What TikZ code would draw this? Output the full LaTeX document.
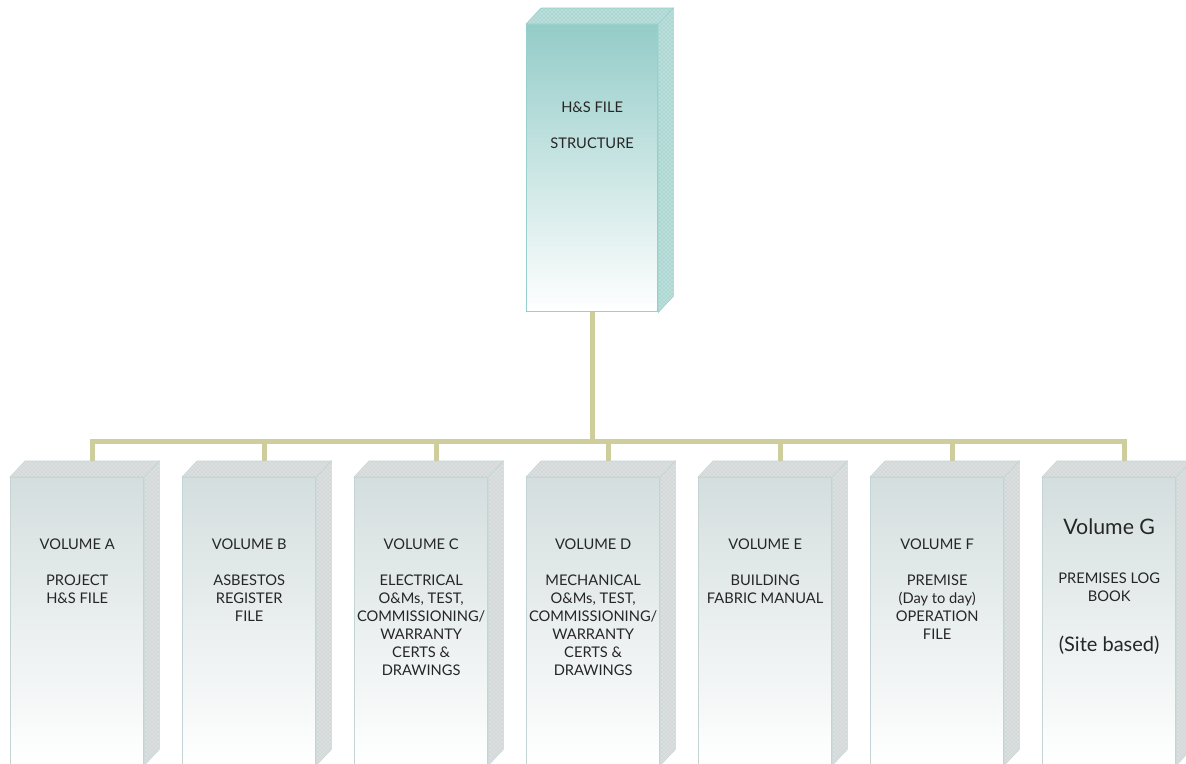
\documentclass[tikz,border=0pt]{standalone}
\usepackage{fontspec}
\setmainfont{Lato}
\usetikzlibrary{positioning,patterns}

\definecolor{tealface}{RGB}{148,204,200}
\definecolor{tealedge}{RGB}{150,208,204}
\definecolor{tealside}{RGB}{172,215,211}
\definecolor{greyface}{RGB}{212,222,222}
\definecolor{greyedge}{RGB}{196,212,212}
\definecolor{greyside}{RGB}{212,216,216}
\definecolor{linkcol}{RGB}{206,206,156}

% top and side faces of a box
\newcommand\boxfaces[3]{%
  \path[preaction={fill=#2}, pattern=crosshatch dots, pattern color=white!85!#2, draw=#3]
    (#1.north west) -- ++(15,-16) -- ([shift={(15,-16)}]#1.north east) -- (#1.north east) -- cycle;
  \path[preaction={fill=#2}, pattern=crosshatch dots, pattern color=white!85!#2, draw=#3]
    (#1.north east) -- ++(15,-16) -- ([shift={(15,-16)}]#1.south east) -- (#1.south east) -- cycle;
}

\begin{document}
\begin{tikzpicture}[x=0.75pt, y=-0.75pt,
    head/.style={draw=tealedge, line width=1pt, top color=tealface, bottom color=white,
      minimum width=98.25pt, minimum height=215.25pt, inner sep=0pt, anchor=north west},
    vol/.style={draw=greyedge, line width=1pt, top color=greyface, bottom color=white,
      minimum width=99.75pt, minimum height=215.25pt, inner sep=0pt, anchor=north west},
    voltext/.style={align=center, inner sep=0pt, text=black!85,
      font=\fontsize{11}{13.5}\selectfont},
    link/.style={draw=linkcol, line width=3.75pt}]
  \useasboundingbox (0,0) rectangle (1186,764);

  % boxes
  \node[head] (hsfile) at (526,24) {};
  \node[vol] (volA) at (10,477) {};
  \node[vol] (volB) at (182,477) {};
  \node[vol] (volC) at (354,477) {};
  \node[vol] (volD) at (526,477) {};
  \node[vol] (volE) at (698,477) {};
  \node[vol] (volF) at (870,477) {};
  \node[vol] (volG) at (1042,477) {};

  % links
  \draw[link] (hsfile.south) -- ++(0,129) coordinate (bus);
  \foreach \v in {volA,volB,volC,volD,volE,volF,volG}
    \draw[link] (bus) -| ([xshift=11.25pt]\v.north);

  \boxfaces{hsfile}{tealside}{tealedge}
  \foreach \v in {volA,volB,volC,volD,volE,volF,volG}
    {\boxfaces{\v}{greyside}{greyedge}}

  % texts
  \node[voltext, below=58.5pt of hsfile.north] {H\&S FILE\\[13.5pt]STRUCTURE};
  \node[voltext, below=46.5pt of volA.north] {VOLUME A\\[13.5pt]PROJECT\\H\&S FILE};
  \node[voltext, below=46.5pt of volB.north] {VOLUME B\\[13.5pt]ASBESTOS\\REGISTER\\FILE};
  \node[voltext, below=46.5pt of volC.north] {VOLUME C\\[13.5pt]ELECTRICAL\\O\&Ms, TEST,\\COMMISSIONING/\\WARRANTY\\CERTS \&\\DRAWINGS};
  \node[voltext, below=46.5pt of volD.north] {VOLUME D\\[13.5pt]MECHANICAL\\O\&Ms, TEST,\\COMMISSIONING/\\WARRANTY\\CERTS \&\\DRAWINGS};
  \node[voltext, below=46.5pt of volE.north] {VOLUME E\\[13.5pt]BUILDING\\FABRIC MANUAL};
  \node[voltext, below=46.5pt of volF.north] {VOLUME F\\[13.5pt]PREMISE\\(Day to day)\\OPERATION\\FILE};
  \node[voltext, font=\fontsize{16}{19}\selectfont, below=31pt of volG.north] (volGname) {Volume G};
  \node[voltext, below=28.75pt of volGname.south] (volGtitle) {PREMISES LOG\\BOOK};
  \node[voltext, font=\fontsize{15}{18}\selectfont, below=25pt of volGtitle.south] {(Site based)};
\end{tikzpicture}
\end{document}
